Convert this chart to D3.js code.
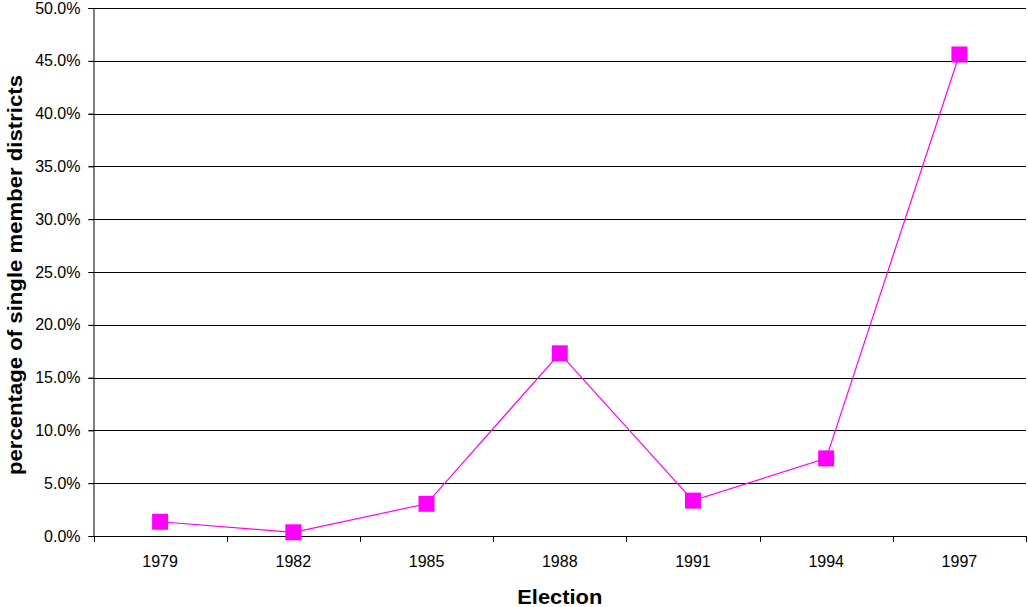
<!DOCTYPE html>
<html><head><meta charset="utf-8">
<script src="https://cdn.jsdelivr.net/npm/d3@7"></script>
<style>body{margin:0;background:#fff;} text{font-family:"Liberation Sans",Arial,sans-serif;}</style>
</head><body>
<svg id="c" width="1028" height="607"></svg>
<script>
const categories = ["1979","1982","1985","1988","1991","1994","1997"];
const values = [1.35, 0.35, 3.05, 17.3, 3.35, 7.35, 45.6];
const yTicks = [0,5,10,15,20,25,30,35,40,45,50];

const svg = d3.select("#c");
const L = 93.5, R = 1026, T = 8, B = 536;
const x = d3.scaleBand().domain(categories).range([L, R]);
const y = d3.scaleLinear().domain([0, 50]).range([B, T]);

// gridlines
svg.append("g").selectAll("line").data(yTicks.filter(d => d > 0)).join("line")
  .attr("x1", L - 5).attr("x2", R)
  .attr("y1", d => Math.round(y(d)) + 0.5).attr("y2", d => Math.round(y(d)) + 0.5)
  .attr("stroke", "#000").attr("stroke-width", 1);

// y axis
const ya = svg.append("g").attr("transform", `translate(${L},0)`)
  .call(d3.axisLeft(y).tickValues(yTicks).tickFormat(d => d.toFixed(1) + "%").tickSize(5).tickPadding(8));
ya.select(".domain").attr("stroke", "#000");
ya.selectAll("text").style("font-size", "16px").attr("fill", "#000")
  .style("font-family", "'Liberation Sans', Arial, sans-serif");

// x axis
const xa = svg.append("g").attr("transform", `translate(0,${B + 0.5})`)
  .call(d3.axisBottom(x).tickSize(0).tickPadding(19));
xa.select(".domain").attr("stroke", "#000").attr("d", `M${L},0H${R}`);
xa.selectAll("text").style("font-size", "16px").attr("fill", "#000")
  .style("font-family", "'Liberation Sans', Arial, sans-serif");
const bounds = categories.map(c => x(c)).concat([R]);
svg.append("g").selectAll("line").data(bounds).join("line")
  .attr("x1", d => Math.round(d) + 0.5).attr("x2", d => Math.round(d) + 0.5)
  .attr("y1", B).attr("y2", B + 6).attr("stroke", "#000");

// line
const cx = d => x(d) + x.bandwidth() / 2;
const pts = categories.map((c, i) => [cx(c), y(values[i])]);
svg.append("path").attr("d", d3.line()(pts)).attr("fill", "none")
  .attr("stroke", "#FF00FF").attr("stroke-width", 1.2);
svg.append("g").selectAll("rect").data(pts).join("rect")
  .attr("x", d => d[0] - 8).attr("y", d => d[1] - 8)
  .attr("width", 16).attr("height", 16).attr("fill", "#FF00FF");

// titles
svg.append("text").attr("x", (L + R) / 2).attr("y", 603.5).attr("text-anchor", "middle")
  .attr("textLength", 85).attr("lengthAdjust", "spacingAndGlyphs")
  .style("font-size", "20px").style("font-weight", "bold").text("Election");
svg.append("text").attr("transform", `translate(22,${(T + B) / 2 + 3}) rotate(-90)`)
  .attr("text-anchor", "middle").attr("textLength", 400).attr("lengthAdjust", "spacingAndGlyphs")
  .style("font-size", "21px").style("font-weight", "bold")
  .text("percentage of single member districts");
</script>
</body></html>
